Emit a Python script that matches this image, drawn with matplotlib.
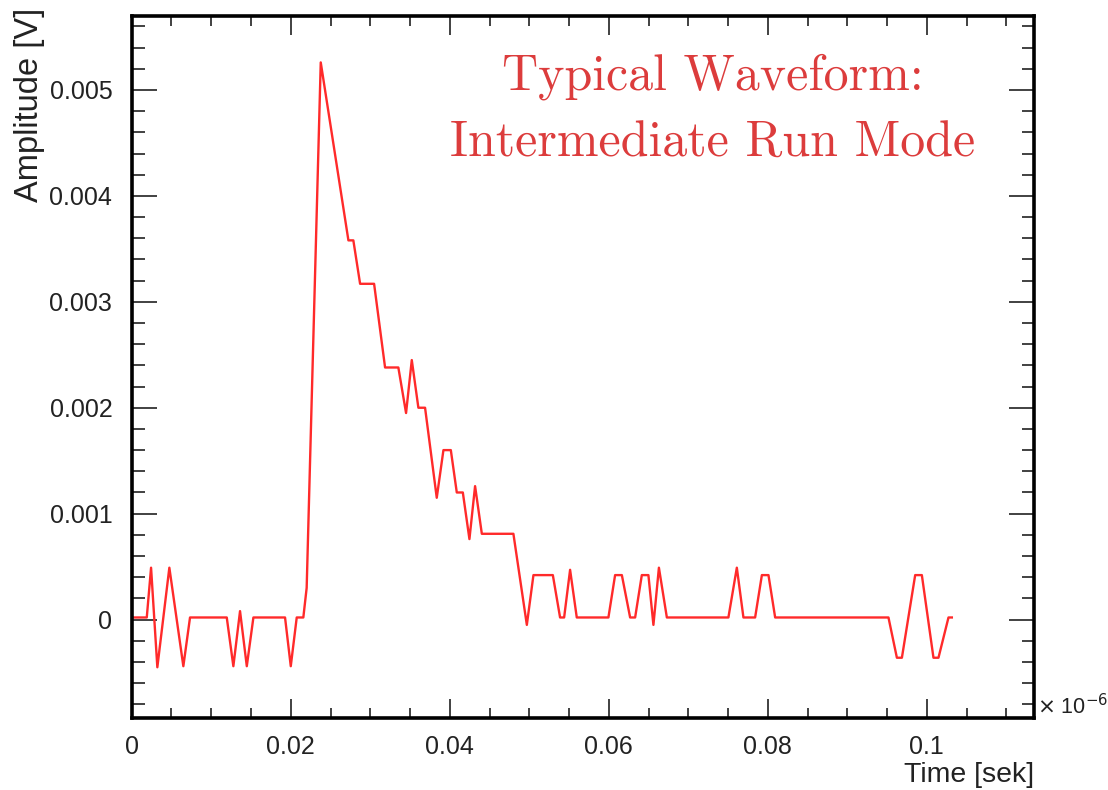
import matplotlib
matplotlib.use("Agg")
import matplotlib.pyplot as plt
from matplotlib.ticker import FixedLocator, MultipleLocator

# Waveform vertices (time in units of 1e-6 s, amplitude in V)
time = [0.0, 0.00189, 0.00243, 0.00322, 0.00473, 0.00649, 0.00733, 0.01195,
        0.01278, 0.01362, 0.01447, 0.0153, 0.01928, 0.0200, 0.02075, 0.02158,
        0.0220, 0.02377, 0.02725, 0.02787, 0.02872, 0.03048, 0.03186, 0.03353,
        0.0345, 0.03522, 0.03605, 0.03689, 0.03836, 0.0392, 0.04013, 0.04088,
        0.04164, 0.04247, 0.04318, 0.04403, 0.0480, 0.04969, 0.05052, 0.05296,
        0.05387, 0.05438, 0.05513, 0.05597, 0.05995, 0.06079, 0.06164, 0.06268,
        0.06331, 0.06415, 0.06498, 0.06561, 0.0663, 0.0673, 0.07504, 0.0761,
        0.07693, 0.0784, 0.07925, 0.08008, 0.08092, 0.09517, 0.09623, 0.09686,
        0.09853, 0.09937, 0.10083, 0.10146, 0.10272, 0.10314]
amplitude = [0.00002, 0.00002, 0.00049, -0.00045, 0.00049, -0.00044, 0.00002, 0.00002,
             -0.00044, 0.00008, -0.00044, 0.00002, 0.00002, -0.00044, 0.00002, 0.00002,
             0.0003, 0.00526, 0.00358, 0.00358, 0.00317, 0.00317, 0.00238, 0.00238,
             0.00195, 0.00245, 0.0020, 0.0020, 0.00115, 0.0016, 0.0016, 0.0012,
             0.0012, 0.00076, 0.00126, 0.00081, 0.00081, -0.00005, 0.00042, 0.00042,
             0.00002, 0.00002, 0.00047, 0.00002, 0.00002, 0.00042, 0.00042, 0.00002,
             0.00002, 0.00042, 0.00042, -0.00005, 0.00049, 0.00002, 0.00002, 0.00049,
             0.00002, 0.00002, 0.00042, 0.00042, 0.00002, 0.00002, -0.00036, -0.00036,
             0.00042, 0.00042, -0.00036, -0.00036, 0.00002, 0.00002]

x_ticks = [0, 0.02, 0.04, 0.06, 0.08, 0.1]
x_labels = ["0", "0.02", "0.04", "0.06", "0.08", "0.1"]
y_ticks = [0, 0.001, 0.002, 0.003, 0.004, 0.005]
y_labels = ["0", "0.001", "0.002", "0.003", "0.004", "0.005"]

title_lines = ["Typical Waveform:", "Intermediate Run Mode"]

# ============================================================================

plt.rcParams['font.family'] = ['Liberation Sans', 'DejaVu Sans']

fig = plt.figure(figsize=(11.08, 7.90), dpi=100)
ax = fig.add_axes([0.1189, 0.091, 0.8145, 0.889])

ax.plot(time, amplitude, color='#ff2a2a', linewidth=1.7)

ax.set_xlim(0, 0.1135)
ax.set_ylim(-0.00093, 0.0057)

ax.xaxis.set_major_locator(FixedLocator(x_ticks))
ax.set_xticklabels(x_labels)
ax.xaxis.set_minor_locator(MultipleLocator(0.005))
ax.yaxis.set_major_locator(FixedLocator(y_ticks))
ax.set_yticklabels(y_labels)
ax.yaxis.set_minor_locator(MultipleLocator(0.0002))

ax.tick_params(which='both', direction='in', top=True, right=True,
               colors='#333333', labelcolor='#222222', width=1.3)
ax.tick_params(axis='y', which='major', length=18, pad=14, labelsize=18)
ax.tick_params(axis='y', which='minor', length=9)
ax.tick_params(axis='x', which='major', length=14, pad=12, labelsize=18)
ax.tick_params(axis='x', which='minor', length=7)

for side in ax.spines.values():
    side.set_linewidth(2.6)
    side.set_color('black')

# Axis titles, ROOT style (right / top aligned)
ax.set_xlabel("Time [sek]", fontsize=20.5, color='#222222', loc='right',
              labelpad=2)
fig.text(0.027, 0.99, "Amplitude [V]", rotation=90, fontsize=23.5,
         color='#222222', ha='center', va='top')

# Exponent note at the end of the x axis
ax.text(1.003, 0.017, r"$\times$ 10$^{-6}$", transform=ax.transAxes,
        fontsize=15.5, color='#222222', ha='left', va='center')

# Red annotation text
ax.text(0.644, 0.895, title_lines[0], transform=ax.transAxes,
        family='cmr10', fontsize=36, color='#dc3c3c', ha='center')
ax.text(0.644, 0.799, title_lines[1], transform=ax.transAxes,
        family='cmr10', fontsize=36, color='#dc3c3c', ha='center')

fig.savefig("out.png", dpi=100)
